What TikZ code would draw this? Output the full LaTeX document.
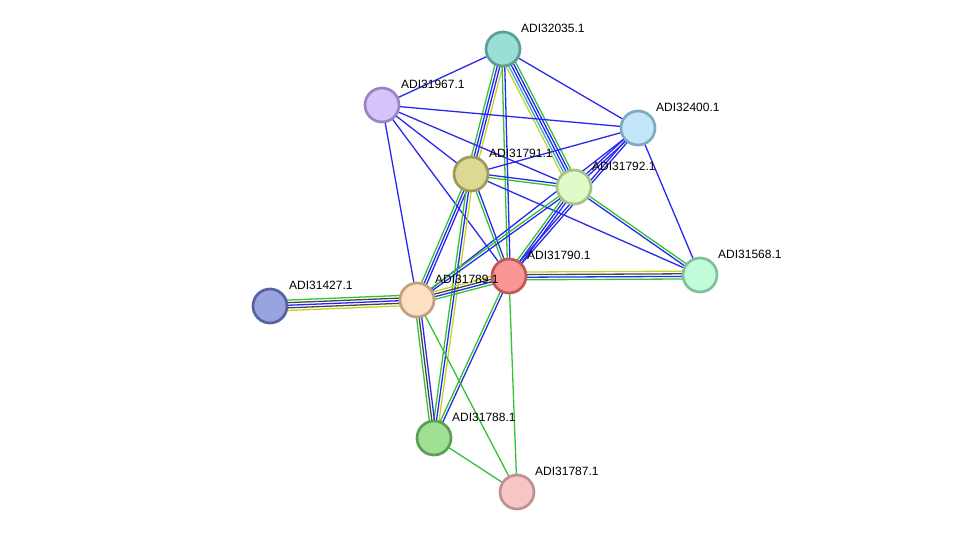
\documentclass[tikz,border=0pt]{standalone}
\usepackage{fontspec}
\setmainfont{Liberation Sans}
\usetikzlibrary{calc}
\pgfdeclarelayer{bg}
\pgfsetlayers{bg,main}
\definecolor{sg}{RGB}{50,195,50}
\definecolor{sb}{RGB}{40,40,240}
\definecolor{sy}{RGB}{195,210,40}
\definecolor{sk}{RGB}{70,70,70}
\definecolor{sc}{RGB}{40,175,225}
\tikzset{
  prot/.style={circle,minimum size=34pt,inner sep=0pt,line width=2.7pt},
  lbl/.style={anchor=west,inner sep=0pt,font=\fontsize{12}{14}\selectfont},
  edge/.style={line width=1.3pt}
}
\newcommand\bundle[4]{%
  \foreach \c [count=\i] in {#4}{%
    \pgfmathsetmacro\off{(\i-(#3+1)/2)*2.6}%
    \draw[edge,\c] ($(#1)!\off pt!90:(#2)$) -- ($(#2)!\off pt!-90:(#1)$);%
  }}
\begin{document}
\begin{tikzpicture}[x=1pt,y=-1pt]
\useasboundingbox (0,0) rectangle (975,538);
\node[prot,fill={rgb,255:red,153;green,223;blue,214},draw={rgb,255:red,90;green,158;blue,149}] (n32035) at (503,49) {};
\node[prot,fill={rgb,255:red,213;green,196;blue,252},draw={rgb,255:red,154;green,133;blue,194}] (n31967) at (382,105) {};
\node[prot,fill={rgb,255:red,195;green,230;blue,251},draw={rgb,255:red,128;green,169;blue,194}] (n32400) at (638,128) {};
\node[prot,fill={rgb,255:red,220;green,217;blue,149},draw={rgb,255:red,158;green,154;blue,90}] (n31791) at (471,174) {};
\node[prot,fill={rgb,255:red,224;green,251;blue,199},draw={rgb,255:red,163;green,194;blue,138}] (n31792) at (574,187) {};
\node[prot,fill={rgb,255:red,249;green,150;blue,150},draw={rgb,255:red,192;green,88;blue,88}] (n31790) at (509,276) {};
\node[prot,fill={rgb,255:red,193;green,251;blue,217},draw={rgb,255:red,128;green,192;blue,156}] (n31568) at (700,275) {};
\node[prot,fill={rgb,255:red,151;green,164;blue,224},draw={rgb,255:red,88;green,98;blue,160}] (n31427) at (270,306) {};
\node[prot,fill={rgb,255:red,253;green,223;blue,193},draw={rgb,255:red,192;green,160;blue,128}] (n31789) at (417,300) {};
\node[prot,fill={rgb,255:red,160;green,224;blue,149},draw={rgb,255:red,92;green,158;blue,86}] (n31788) at (434,438) {};
\node[prot,fill={rgb,255:red,246;green,198;blue,198},draw={rgb,255:red,192;green,144;blue,144}] (n31787) at (517,492) {};
\node[lbl] (l32035) at (521,28) {ADI32035.1};
\node[lbl] (l31967) at (401,84) {ADI31967.1};
\node[lbl] (l32400) at (656,107) {ADI32400.1};
\node[lbl] (l31791) at (489,153) {ADI31791.1};
\node[lbl] (l31792) at (592,166) {ADI31792.1};
\node[lbl] (l31790) at (527,255) {ADI31790.1};
\node[lbl] (l31568) at (718,254) {ADI31568.1};
\node[lbl] (l31427) at (289,285) {ADI31427.1};
\node[lbl] (l31789) at (435,279) {ADI31789.1};
\node[lbl] (l31788) at (452,417) {ADI31788.1};
\node[lbl] (l31787) at (535,471) {ADI31787.1};
\begin{pgfonlayer}{bg}
\bundle{n32035}{n31967}{1}{sb}
\bundle{n32035}{n32400}{1}{sb}
\bundle{n32035}{n31791}{4}{sg,sb,sb,sy}
\bundle{n32035}{n31790}{2}{sg,sb}
\bundle{n32035}{n31792}{5}{sy,sc,sb,sb,sg}
\bundle{n31967}{n32400}{1}{sb}
\bundle{n31967}{n31791}{1}{sb}
\bundle{n31967}{n31792}{1}{sb}
\bundle{n31967}{n31790}{1}{sb}
\bundle{n31967}{n31789}{1}{sb}
\bundle{n32400}{n31791}{1}{sb}
\bundle{n32400}{n31792}{2}{sb,sb}
\bundle{n32400}{n31790}{2}{sb,sb}
\bundle{n32400}{n31789}{1}{sb}
\bundle{n32400}{n31568}{1}{sb}
\bundle{n31791}{n31792}{2}{sg,sb}
\bundle{n31791}{n31568}{1}{sb}
\bundle{n31791}{n31790}{2}{sg,sb}
\bundle{n31791}{n31789}{3}{sg,sb,sb}
\bundle{n31791}{n31788}{3}{sg,sb,sy}
\bundle{n31792}{n31568}{2}{sb,sg}
\bundle{n31792}{n31790}{3}{sg,sb,sb}
\bundle{n31792}{n31789}{2}{sg,sb}
\bundle{n31790}{n31568}{4}{sg,sb,sk,sy}
\bundle{n31790}{n31789}{4}{sy,sk,sb,sg}
\bundle{n31790}{n31788}{2}{sg,sb}
\bundle{n31790}{n31787}{1}{sg}
\bundle{n31789}{n31427}{5}{sg,sk,sb,sk,sy}
\bundle{n31789}{n31788}{3}{sg,sk,sb}
\bundle{n31789}{n31787}{1}{sg}
\bundle{n31788}{n31787}{1}{sg}
\end{pgfonlayer}
\end{tikzpicture}
\end{document}
